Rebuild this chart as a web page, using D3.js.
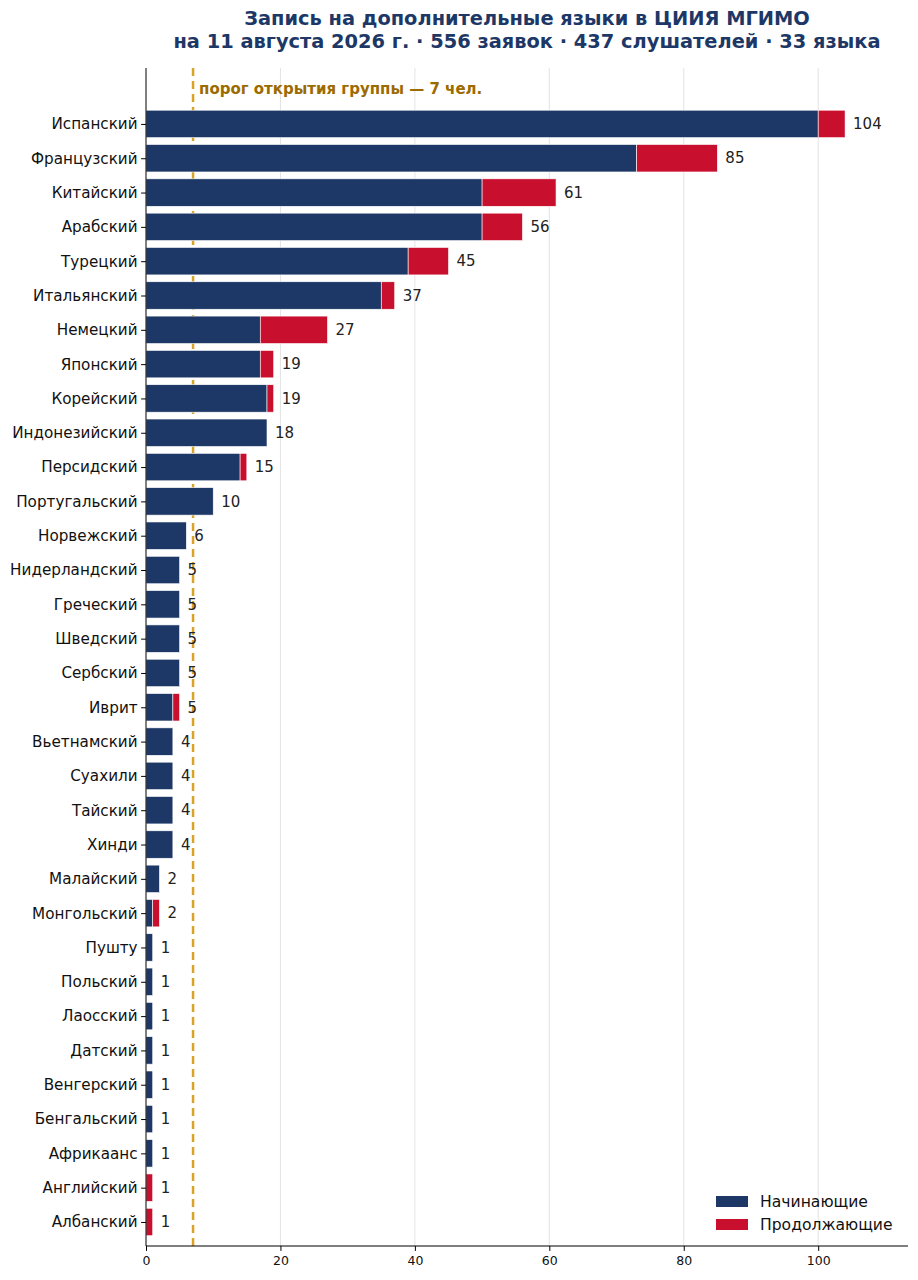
<!DOCTYPE html>
<html><head><meta charset="utf-8">
<script src="https://cdn.jsdelivr.net/npm/d3@7/dist/d3.min.js"></script>
<style>body{margin:0;background:#fff;}svg{display:block;font-family:"DejaVu Sans",sans-serif;}</style>
</head><body>
<svg id="c" width="918" height="1280"></svg>
<script>
const languages = ["Испанский","Французский","Китайский","Арабский","Турецкий","Итальянский","Немецкий","Японский","Корейский","Индонезийский","Персидский","Португальский","Норвежский","Нидерландский","Греческий","Шведский","Сербский","Иврит","Вьетнамский","Суахили","Тайский","Хинди","Малайский","Монгольский","Пушту","Польский","Лаосский","Датский","Венгерский","Бенгальский","Африкаанс","Английский","Албанский"];
const beginners  = [100,73,50,50,39,35,17,17,18,18,14,10,6,5,5,5,5,4,4,4,4,4,2,1,1,1,1,1,1,1,1,0,0];
const continuing = [4,12,11,6,6,2,10,2,1,0,1,0,0,0,0,0,0,1,0,0,0,0,0,1,0,0,0,0,0,0,0,1,1];
const xTicks = [0,20,40,60,80,100];
const threshold = 7;
const titleLines = ["Запись на дополнительные языки в ЦИИЯ МГИМО","на 11 августа 2026 г. · 556 заявок · 437 слушателей · 33 языка"];
const seriesNames = ["Начинающие","Продолжающие"];
const colors = ["#1d3866","#c8102e"];

const svg = d3.select("#c");
const L = 146, R = 908, T = 68, B = 1246;
const totals = languages.map((d,i)=>beginners[i]+continuing[i]);
const x = d3.scaleLinear().domain([0, d3.max(totals)*1.09]).range([L, R]);
const y = d3.scaleLinear().domain([-1.63, languages.length - 0.3]).range([T, B]);
const bh = (y(1)-y(0))*0.8;

// grid
svg.append("g").selectAll("line").data(xTicks.filter(t=>t>0)).join("line")
  .attr("x1",d=>x(d)).attr("x2",d=>x(d)).attr("y1",T).attr("y2",B)
  .attr("stroke","#dcdcdc").attr("stroke-width",0.8);

// threshold line
svg.append("line").attr("x1",x(threshold)).attr("x2",x(threshold)).attr("y1",T).attr("y2",B)
  .attr("stroke","#d9a32a").attr("stroke-width",2.5).attr("stroke-dasharray","8,5");
svg.append("text").attr("x",x(threshold)+6).attr("y",y(-1.02)).attr("dy","0.35em")
  .attr("font-size",15).attr("font-weight","bold").attr("fill","#9b6b00")
  .text("порог открытия группы — " + threshold + " чел.");

// bars
const g = svg.append("g");
g.selectAll("rect.b").data(languages).join("rect").attr("class","b")
  .attr("x",x(0)).attr("y",(d,i)=>y(i)-bh/2).attr("height",bh)
  .attr("width",(d,i)=>x(beginners[i])-x(0)).attr("fill",colors[0])
  .attr("stroke","#fff").attr("stroke-width",(d,i)=>beginners[i]>0?0.6:0);
g.selectAll("rect.c").data(languages).join("rect").attr("class","c")
  .attr("x",(d,i)=>x(beginners[i])).attr("y",(d,i)=>y(i)-bh/2).attr("height",bh)
  .attr("width",(d,i)=>x(beginners[i]+continuing[i])-x(beginners[i])).attr("fill",colors[1])
  .attr("stroke","#fff").attr("stroke-width",(d,i)=>continuing[i]>0?0.6:0);

// value labels
g.selectAll("text.v").data(languages).join("text").attr("class","v")
  .attr("x",(d,i)=>x(totals[i])+8).attr("y",(d,i)=>y(i)).attr("dy","0.35em")
  .attr("font-size",15).attr("fill","#222").text((d,i)=>totals[i]);

// axes
const yAxis = d3.axisLeft(y).tickValues(d3.range(languages.length)).tickFormat(i=>languages[i]).tickSize(4.9).tickPadding(3.5);
const ya = svg.append("g").attr("transform",`translate(${L},0)`).call(yAxis);
ya.select(".domain").attr("d",`M0,${T}V${B}`).attr("stroke","#000").attr("stroke-width",1);
ya.selectAll("text").attr("font-size",15.2).attr("fill","#111").attr("font-family","DejaVu Sans");
ya.selectAll(".tick line").attr("stroke","#000");

const xAxis = d3.axisBottom(x).tickValues(xTicks).tickSize(4.9).tickPadding(4.9);
const xa = svg.append("g").attr("transform",`translate(0,${B})`).call(xAxis);
xa.select(".domain").attr("d",`M${L},0H${R}`).attr("stroke","#000").attr("stroke-width",1);
xa.selectAll("text").attr("font-size",12.5).attr("fill","#111").attr("font-family","DejaVu Sans");

// title
const cx = (L+R)/2;
svg.append("text").attr("x",cx).attr("y",18).attr("dy","0.35em").attr("text-anchor","middle")
  .attr("font-size",19.4).attr("font-weight","bold").attr("fill","#1d3866").text(titleLines[0]);
svg.append("text").attr("x",cx).attr("y",41).attr("dy","0.35em").attr("text-anchor","middle")
  .attr("font-size",19.4).attr("font-weight","bold").attr("fill","#1d3866").text(titleLines[1]);

// legend
const lg = svg.append("g").attr("transform","translate(716,1196)");
seriesNames.forEach((n,i)=>{
  lg.append("rect").attr("x",0).attr("y",i*23).attr("width",32).attr("height",11).attr("fill",colors[i]);
  lg.append("text").attr("x",44).attr("y",i*23+5.5).attr("dy","0.35em").attr("font-size",15.6).attr("fill","#111").text(n);
});
</script>
</body></html>
